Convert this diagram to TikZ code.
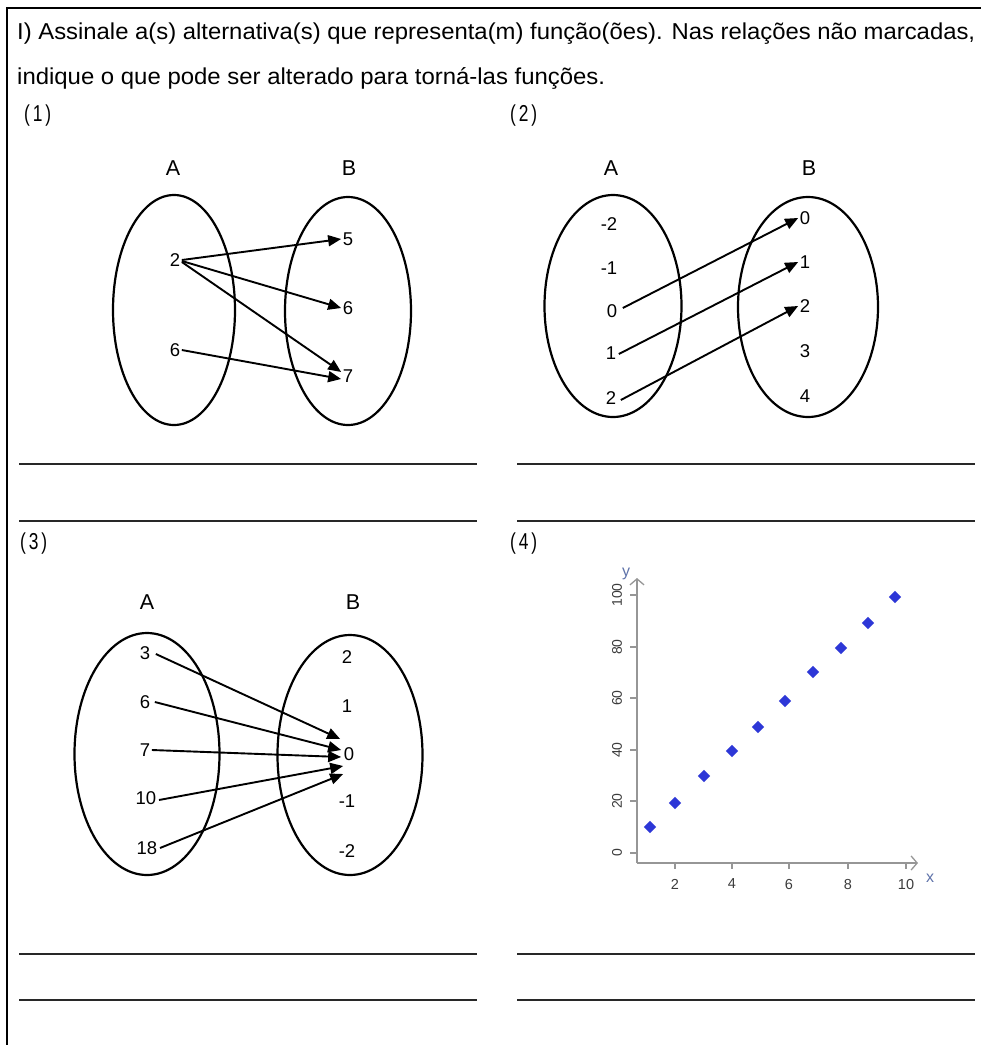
\documentclass[tikz,border=0pt]{standalone}
\usepackage{fontspec}
\usepackage{graphicx}
\setmainfont{Liberation Sans}
\usetikzlibrary{shapes.geometric,arrows.meta}
\definecolor{ptblue}{RGB}{45,55,215}
\definecolor{axgray}{RGB}{150,150,150}
\definecolor{lblgray}{RGB}{60,60,60}
\definecolor{linegray}{RGB}{40,40,40}
\definecolor{axlbl}{RGB}{95,115,170}
\begin{document}
\begin{tikzpicture}[x=1pt,y=-1pt,
  hdr/.style={anchor=base west, inner sep=0pt, font=\fontsize{23}{27}\selectfont},
  setlbl/.style={font=\fontsize{21.5}{25}\selectfont, inner sep=1pt},
  num/.style={font=\fontsize{18.5}{22}\selectfont, inner sep=1.5pt},
  setell/.style={draw, ellipse, line width=2.2pt, inner sep=0pt},
  maparrow/.style={line width=1.9pt, -{Triangle[length=13pt,width=11pt]}},
  ansline/.style={line width=2pt, draw=linegray},
  axis/.style={draw=axgray, line width=1.3pt},
  axarrow/.style={axis, -{Straight Barb[length=6pt,width=14pt]}},
  tick/.style={draw=axgray, line width=1.2pt},
  ylbl/.style={font=\fontsize{14}{16}\selectfont, text=lblgray, rotate=90, inner sep=0pt},
  xlbl/.style={font=\fontsize{14.5}{17}\selectfont, text=lblgray, inner sep=0pt},
  pt/.style={diamond, fill=ptblue, minimum size=12.5pt, inner sep=0pt}]

\useasboundingbox (0,0) rectangle (981,1045);
\fill[white] (0,0) rectangle (981,1045);

% frame
\coordinate (fbl) at (7,1045);
\coordinate (ftl) at (7,8);
\coordinate (ftr) at (981,8);
\draw[line width=2.8pt] (fbl) -- (ftl) -- (ftr);

% header
\node[hdr] (t1) at (17,39) {\resizebox{958pt}{\height}{I) Assinale a(s) alternativa(s) que representa(m) função(ões). Nas relações não marcadas,}};
\node[hdr] (t2) at (17,84) {\resizebox{588pt}{\height}{indique o que pode ser alterado para torná-las funções.}};
\node[hdr] (p1) at (24,121) {\resizebox{27pt}{\height}{(\,1\,)}};
\node[hdr] (p2) at (510,121) {\resizebox{27pt}{\height}{(\,2\,)}};
\node[hdr] (p3) at (20,549) {\resizebox{27pt}{\height}{(\,3\,)}};
\node[hdr] (p4) at (510,549) {\resizebox{27pt}{\height}{(\,4\,)}};

% ---------- panel 1
\node[setlbl] (A1) at (173,168) {A};
\node[setlbl] (B1) at (349,168) {B};
\node[setell, minimum width=122pt, minimum height=230pt] (eA1) at (174,310) {};
\node[setell, minimum width=126pt, minimum height=228pt] (eB1) at (348,311) {};
\node[num] (a12) at (175,260) {2};
\node[num] (a16) at (175,350) {6};
\node[num] (b15) at (348,239) {5};
\node[num] (b16) at (348,308) {6};
\node[num] (b17) at (348,376) {7};
\draw[maparrow] (a12.east) -- (b15.west);
\draw[maparrow] ([yshift=-1pt]a12.east) -- (b16.west);
\draw[maparrow] ([yshift=-2pt]a12.east) -- ([yshift=4pt]b17.west);
\draw[maparrow] (a16.east) -- ([yshift=-3pt]b17.west);

% ---------- panel 2
\node[setlbl] (A2) at (611,168) {A};
\node[setlbl] (B2) at (809,168) {B};
\node[setell, minimum width=137pt, minimum height=222pt] (eA2) at (613,306) {};
\node[setell, minimum width=140pt, minimum height=220pt] (eB2) at (808,307) {};
\node[num] (a2m2) at (609,224) {-2};
\node[num] (a2m1) at (609,268) {-1};
\node[num] (a20) at (612,311) {0};
\node[num] (a21) at (611,353) {1};
\node[num] (a22) at (611,398) {2};
\node[num] (b20) at (805,218) {0};
\node[num] (b21) at (805,262) {1};
\node[num] (b22) at (805,306) {2};
\node[num] (b23) at (805,351) {3};
\node[num] (b24) at (805,396) {4};
\draw[maparrow] ([xshift=4pt,yshift=3pt]a20.east) -- (b20.west);
\draw[maparrow] ([xshift=1pt,yshift=-1pt]a21.east) -- (b21.west);
\draw[maparrow] ([xshift=3pt,yshift=-2pt]a22.east) -- (b22.west);

% ---------- panel 3
\node[setlbl] (A3) at (147,602) {A};
\node[setlbl] (B3) at (353,602) {B};
\node[setell, minimum width=145pt, minimum height=242pt] (eA3) at (147,754) {};
\node[setell, minimum width=145pt, minimum height=240pt] (eB3) at (350,755) {};
\node[num] (a33) at (145,653) {3};
\node[num] (a36) at (145,702) {6};
\node[num] (a37) at (145,750) {7};
\node[num] (a310) at (146,798) {10};
\node[num] (a318) at (147,848) {18};
\node[num] (b32) at (347,657) {2};
\node[num] (b31) at (347,706) {1};
\node[num] (b30) at (349,754) {0};
\node[num] (b3m1) at (347,801) {-1};
\node[num] (b3m2) at (347,851) {-2};
\draw[maparrow] ([xshift=4pt,yshift=-1pt]a33.east) -- ([xshift=-2pt,yshift=15pt]b30.west);
\draw[maparrow] ([xshift=3pt]a36.east) -- ([xshift=-1pt,yshift=4pt]b30.west);
\draw[maparrow] (a37.east) -- ([xshift=-1pt,yshift=-3pt]b30.west);
\draw[maparrow] ([xshift=1pt,yshift=-2pt]a310.east) -- ([xshift=1pt,yshift=-12pt]b30.west);
\draw[maparrow] ([xshift=1pt]a318.east) -- ([xshift=1pt,yshift=-20pt]b30.west);

% ---------- panel 4 (plot)
\coordinate (org) at (637,863);
\coordinate (ytop) at (637,578);
\coordinate (xend) at (918,863);
\draw[axarrow] (org) -- (ytop);
\draw[axarrow] (org) -- (xend);
\foreach \v/\yy in {0/853,20/801,40/750,60/698,80/647,100/595}{
  \coordinate (yt\v) at (630,\yy);
  \coordinate (ya\v) at (637,\yy);
  \draw[tick] (yt\v) -- (ya\v);
  \node[ylbl] (yl\v) at (617,\yy) {\v};
}
\foreach \v/\xx in {2/675,4/732,6/789,8/848,10/906}{
  \coordinate (xt\v) at (\xx,863);
  \coordinate (xb\v) at (\xx,869);
  \draw[tick] (xt\v) -- (xb\v);
  \node[xlbl] (xl\v) at (\xx,884) {\v};
}
\node[font=\fontsize{16}{18}\selectfont, text=axlbl, inner sep=0pt] (ylab) at (626,574) {y};
\node[font=\fontsize{16}{18}\selectfont, text=axlbl, inner sep=0pt] (xlab) at (930,878) {x};
\foreach \i/\px/\py in {1/650/827,2/675/803,3/704/776,4/732/751,5/758/727,6/785/701,7/813/672,8/841/648,9/868/623,10/895/597}{
  \node[pt] (d\i) at (\px,\py) {};
}

% ---------- answer lines
\coordinate (l1a) at (19,464);  \coordinate (l1b) at (477,464);
\coordinate (l2a) at (19,521);  \coordinate (l2b) at (477,521);
\coordinate (r1a) at (517,464); \coordinate (r1b) at (975,464);
\coordinate (r2a) at (517,521); \coordinate (r2b) at (975,521);
\coordinate (l3a) at (19,954);  \coordinate (l3b) at (477,954);
\coordinate (l4a) at (19,1000); \coordinate (l4b) at (477,1000);
\coordinate (r3a) at (517,954); \coordinate (r3b) at (975,954);
\coordinate (r4a) at (517,1000);\coordinate (r4b) at (975,1000);
\draw[ansline] (l1a) -- (l1b);
\draw[ansline] (l2a) -- (l2b);
\draw[ansline] (r1a) -- (r1b);
\draw[ansline] (r2a) -- (r2b);
\draw[ansline] (l3a) -- (l3b);
\draw[ansline] (l4a) -- (l4b);
\draw[ansline] (r3a) -- (r3b);
\draw[ansline] (r4a) -- (r4b);
\end{tikzpicture}
\end{document}
